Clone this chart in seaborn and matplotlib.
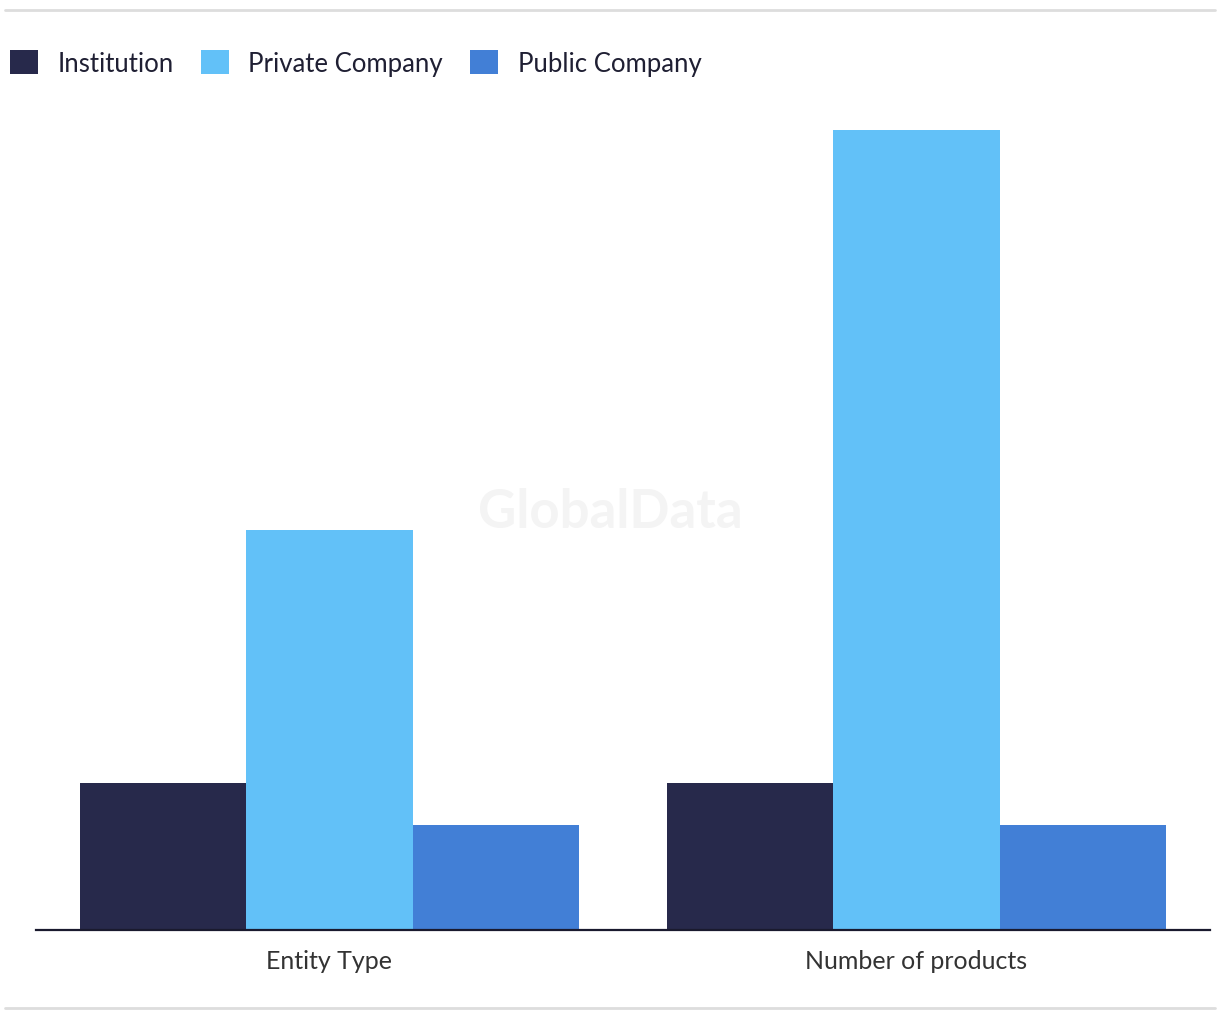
import pandas as pd
import matplotlib.pyplot as plt
import seaborn as sns
from matplotlib.lines import Line2D
from matplotlib.patches import Patch

# Data
categories = ['Entity Type', 'Number of products']
entity_types = ['Institution', 'Private Company', 'Public Company']
institution = [7, 7]
private_company = [19, 38]
public_company = [5, 5]

colors = ['#27294b', '#62c1f8', '#427fd6']

df = pd.DataFrame({
    'category': categories * 3,
    'entity': [e for e in entity_types for _ in categories],
    'value': institution + private_company + public_company,
})

sns.set_style('white')
plt.rcParams['font.family'] = ['Lato', 'DejaVu Sans']

fig = plt.figure(figsize=(12.2, 10.2), dpi=100)
ax = fig.add_axes([0.0295, 0.0873, 0.9623, 0.8255])

sns.barplot(data=df, x='category', y='value', hue='entity',
            hue_order=entity_types, palette=colors, width=0.85,
            saturation=1, linewidth=0, ax=ax, legend=False)

ax.set_xlim(-0.5, 1.5)
ax.set_ylim(0, 40)
ax.set_xlabel('')
ax.set_ylabel('')
ax.set_yticks([])
ax.tick_params(axis='x', length=0, labelsize=18, labelcolor='#333333', pad=14)
for side in ['top', 'right', 'left']:
    ax.spines[side].set_visible(False)
ax.spines['bottom'].set_color('#1a1a2e')
ax.spines['bottom'].set_linewidth(1.6)

# Watermark
fig.text(0.5, 0.498, 'GlobalData', ha='center', va='center', fontsize=38,
         fontweight='bold', color='#f4f4f4', zorder=0)

# Legend
handles = [Patch(facecolor=c, edgecolor='none') for c in colors]
fig.legend(handles, entity_types, loc='upper left', bbox_to_anchor=(0.002, 0.958),
           ncol=3, frameon=False, fontsize=18.5, handlelength=1.1, handleheight=1.1,
           handletextpad=0.75, columnspacing=1.05, labelcolor='#1f1f33',
           borderaxespad=0, borderpad=0.3)

# Thin gray rules at top and bottom
fig.add_artist(Line2D([0.004, 0.996], [0.989, 0.989], color='#dddddd', linewidth=2))
fig.add_artist(Line2D([0.004, 0.996], [0.011, 0.011], color='#dddddd', linewidth=2))

plt.savefig('out.png', dpi=100)
plt.close()
